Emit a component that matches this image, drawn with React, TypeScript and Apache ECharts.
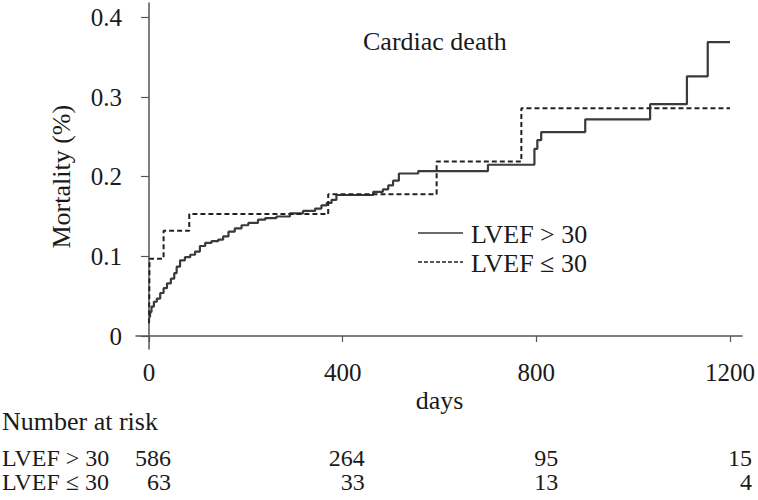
import { useEffect, useRef } from 'react';
import * as echarts from 'echarts';

const xTicks = [0, 400, 800, 1200];
const yTicks = [0, 0.1, 0.2, 0.3, 0.4];

const seriesNames = ['LVEF > 30', 'LVEF \u2264 30'];

// LVEF > 30 (solid): event day, cumulative mortality after the step
const solidDays = [0, 2, 5, 10, 16, 23, 30, 37, 45, 52, 57, 64, 74, 85, 95, 105, 116, 129, 143, 153, 164, 177, 191, 205, 225, 240, 263, 291, 318, 343, 356, 367, 377, 387, 463, 483, 494, 504, 516, 556, 700, 796, 802, 810, 901, 1035, 1111, 1154, 1200];
const solidValues = [0.024, 0.030, 0.037, 0.043, 0.047, 0.054, 0.060, 0.066, 0.072, 0.079, 0.087, 0.095, 0.099, 0.102, 0.106, 0.113, 0.117, 0.119, 0.121, 0.125, 0.131, 0.135, 0.139, 0.142, 0.146, 0.148, 0.150, 0.154, 0.157, 0.160, 0.164, 0.167, 0.171, 0.177, 0.181, 0.184, 0.189, 0.195, 0.204, 0.207, 0.215, 0.235, 0.246, 0.256, 0.272, 0.291, 0.326, 0.369, 0.369];

// LVEF <= 30 (dashed)
const dashedDays = [0, 1, 30, 83, 370, 594, 769, 1200];
const dashedValues = [0.016, 0.097, 0.132, 0.153, 0.178, 0.219, 0.286, 0.286];

const riskTimes = [0, 400, 800, 1200];
const riskAbove = [586, 264, 95, 15];
const riskBelow = [63, 33, 13, 4];

const FONT = 'Liberation Serif, Times New Roman, serif';
const TEXT = '#1a1a1a';
const AXIS = '#555555';
const SOLID = '#3a3a3a';
const DASHED = '#222222';

export default function App() {
  const ref = useRef<HTMLDivElement>(null);

  useEffect(() => {
    document.body.style.margin = '0';
    if (!ref.current) return;
    const chart = echarts.init(ref.current, undefined, { renderer: 'svg' });

    const pair = (xs: number[], ys: number[]) => xs.map((x, i) => [x, ys[i]]);

    chart.setOption({
      animation: false,
      backgroundColor: '#ffffff',
      grid: { left: 136, right: 15, top: 3, bottom: 151 },
      xAxis: {
        type: 'value',
        min: -27,
        max: 1225,
        axisLine: { show: true, lineStyle: { color: AXIS, width: 1.5 } },
        axisTick: { show: true, length: 6, customValues: xTicks, lineStyle: { color: AXIS, width: 1.2 } },
        axisLabel: {
          customValues: xTicks,
          fontFamily: FONT,
          fontSize: 25,
          color: TEXT,
          margin: 11,
          formatter: (v: number) => String(v),
        },
        splitLine: { show: false },
      },
      yAxis: {
        type: 'value',
        min: -0.0163,
        max: 0.418,
        axisLine: { show: true, lineStyle: { color: AXIS, width: 1.5 } },
        axisTick: { show: true, length: 8, customValues: yTicks, lineStyle: { color: AXIS, width: 1.2 } },
        axisLabel: {
          customValues: yTicks,
          fontFamily: FONT,
          fontSize: 25,
          color: TEXT,
          margin: 14,
          formatter: (v: number) => (Math.abs(v) < 1e-9 ? '0' : v.toFixed(1)),
        },
        splitLine: { show: false },
      },
      series: [
        {
          name: seriesNames[0],
          type: 'line',
          step: 'end',
          symbol: 'none',
          data: pair(solidDays, solidValues),
          lineStyle: { color: SOLID, width: 2.2, type: 'solid' },
          itemStyle: { color: SOLID },
        },
        {
          name: seriesNames[1],
          type: 'line',
          step: 'end',
          symbol: 'none',
          data: pair(dashedDays, dashedValues),
          lineStyle: { color: DASHED, width: 2, type: [5, 3] },
          itemStyle: { color: DASHED },
        },
      ],
    });

    const colX = riskTimes.map((t) => (chart.convertToPixel({ xAxisIndex: 0 }, t) as number) + 22);
    const plotCenter = chart.convertToPixel({ xAxisIndex: 0 }, 600) as number;
    const yMid = chart.convertToPixel({ yAxisIndex: 0 }, 0.2) as number;

    const txt = (text: string, x: number, y: number, align: string, size = 26, extra: any = {}) => ({
      type: 'text',
      x,
      y,
      style: { text, fontFamily: FONT, fontSize: size, fill: TEXT, align, verticalAlign: 'middle' },
      ...extra,
    });

    const legendLine = (y: number, color: string, width: number, dash: any) => ({
      type: 'line',
      shape: { x1: 418, y1: y, x2: 463, y2: y },
      style: { stroke: color, lineWidth: width, lineDash: dash },
    });

    const graphics: any[] = [
      txt('Cardiac death', 363, 41, 'left'),
      txt('days', plotCenter, 400, 'center'),
      txt('Mortality (%)', 61, yMid, 'center', 26, { rotation: Math.PI / 2 }),
      legendLine(233, SOLID, 1.6, null),
      txt(seriesNames[0], 471, 234, 'left'),
      legendLine(262, DASHED, 1.6, [4, 2]),
      txt(seriesNames[1], 471, 263, 'left'),
      txt('Number at risk', 2, 421, 'left'),
      txt(seriesNames[0], 2, 458, 'left', 24),
      txt(seriesNames[1], 2, 482, 'left', 24),
    ];
    riskAbove.forEach((n, i) => graphics.push(txt(String(n), colX[i], 458, 'right', 24)));
    riskBelow.forEach((n, i) => graphics.push(txt(String(n), colX[i], 482, 'right', 24)));

    chart.setOption({ graphic: graphics });

    return () => chart.dispose();
  }, []);

  return <div ref={ref} style={{ width: 758, height: 500 }} />;
}
